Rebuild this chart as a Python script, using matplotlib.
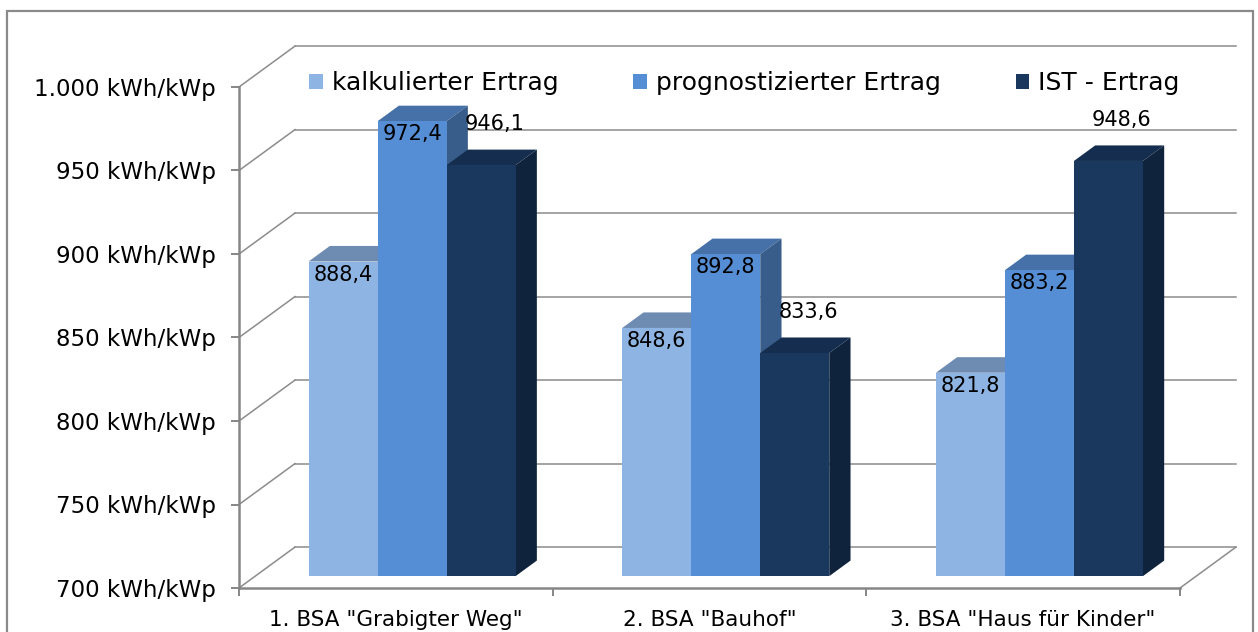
import matplotlib
matplotlib.use("Agg")
import matplotlib.pyplot as plt
from matplotlib.patches import Polygon, Patch, Rectangle

plt.rcParams['font.family'] = ['DejaVu Sans']

# ---------------- data ----------------
categories = ['1. BSA "Grabigter Weg"', '2. BSA "Bauhof"', '3. BSA "Haus für Kinder"']
series_names = ['kalkulierter Ertrag', 'prognostizierter Ertrag', 'IST - Ertrag']
kalkuliert = [888.4, 848.6, 821.8]
prognostiziert = [972.4, 892.8, 883.2]
ist = [946.1, 833.6, 948.6]
y_ticks = [700, 750, 800, 850, 900, 950, 1000]
y_tick_labels = ['700 kWh/kWp', '750 kWh/kWp', '800 kWh/kWp', '850 kWh/kWp',
                 '900 kWh/kWp', '950 kWh/kWp', '1.000 kWh/kWp']

series_values = [kalkuliert, prognostiziert, ist]

# ---------------- style ----------------
front_colors = ['#8EB4E3', '#558ED5', '#1A375E']
top_colors = ['#6E8BB2', '#4570A8', '#152E4F']
side_colors = ['#6A86AC', '#385D8A', '#10233C']
grid_color = '#8C8C8C'
axis_color = '#868686'

YMIN, YMAX = 700, 1000
NCAT = len(categories)
DX = 0.1785      # full depth offset (category units)
DY = 24.5        # full depth offset (value units)
F0, F1 = 0.29, 0.67   # bar depth range (fraction of full depth)
BAR_W = 0.22
CLUSTER_START = 0.17

fig = plt.figure(figsize=(12.58, 6.32), dpi=100)
ax = fig.add_axes([239 / 1258, 44 / 632, 941 / 1258, 501 / 632])
ax.set_xlim(0, NCAT)
ax.set_ylim(YMIN, YMAX)
ax.set_facecolor('none')

# back wall grid lines and left wall diagonals
for v in y_ticks:
    ax.plot([0, DX], [v, v + DY], color=grid_color, lw=1.1, clip_on=False, zorder=1)
    ax.plot([DX, NCAT + DX], [v + DY, v + DY], color=grid_color, lw=1.1,
            clip_on=False, zorder=1)
# right floor edge
ax.plot([NCAT, NCAT + DX], [YMIN, YMIN + DY], color=grid_color, lw=1.1,
        clip_on=False, zorder=1)

# bars
for i in range(NCAT):
    for j, vals in enumerate(series_values):
        v = vals[i]
        x0 = i + CLUSTER_START + j * BAR_W
        z = 2 + j * 0.1
        xf = x0 + F0 * DX
        xb = x0 + F1 * DX
        yf0 = YMIN + F0 * DY
        yb0 = YMIN + F1 * DY
        top = Polygon([(xf, v + F0 * DY), (xf + BAR_W, v + F0 * DY),
                       (xb + BAR_W, v + F1 * DY), (xb, v + F1 * DY)],
                      closed=True, facecolor=top_colors[j], edgecolor='none',
                      zorder=z, clip_on=False)
        side = Polygon([(xf + BAR_W, yf0), (xf + BAR_W, v + F0 * DY),
                        (xb + BAR_W, v + F1 * DY), (xb + BAR_W, yb0)],
                       closed=True, facecolor=side_colors[j], edgecolor='none',
                       zorder=z + 0.01, clip_on=False)
        ax.add_patch(top)
        ax.add_patch(side)
        ax.bar(xf, v - YMIN, bottom=yf0, width=BAR_W, align='edge',
               color=front_colors[j], edgecolor='none', zorder=z + 0.02,
               clip_on=False)
        label = f"{v:.1f}".replace('.', ',')
        if j < 2:
            off = (0, -9.5)
        else:
            off = (9.5, 29.5)
        ax.annotate(label, xy=(xf + BAR_W / 2, v + F0 * DY), xytext=off,
                    textcoords='offset points', ha='center', va='center',
                    fontsize=15, color='black', zorder=5,
                    annotation_clip=False)

# axes styling
for s in ['top', 'right']:
    ax.spines[s].set_visible(False)
for s in ['left', 'bottom']:
    ax.spines[s].set_color(axis_color)
    ax.spines[s].set_linewidth(1.8)
    ax.spines[s].set_zorder(6)

ax.set_yticks(y_ticks)
ax.set_yticklabels(y_tick_labels)
ax.tick_params(axis='y', direction='out', length=5.8, width=1.4,
               color=axis_color, labelsize=16.5, pad=11)
ax.set_xticks(range(NCAT + 1))
ax.set_xticklabels([])
ax.tick_params(axis='x', which='major', direction='out', length=6, width=1.4,
               color=axis_color)
ax.set_xticks([i + 0.5 for i in range(NCAT)], minor=True)
ax.set_xticklabels(categories, minor=True)
ax.tick_params(axis='x', which='minor', length=0, labelsize=15.5, pad=16)

# legend
handles = [Patch(facecolor=c, edgecolor='none') for c in front_colors]
ax.legend(handles, series_names, loc='center left',
          bbox_to_anchor=(0.0744, 1.008), ncol=3, frameon=False, fontsize=18,
          handlelength=0.55, handleheight=0.55, handletextpad=0.35,
          columnspacing=3.0, borderaxespad=0, borderpad=0)

# outer frame
frame = Rectangle((7 / 1258, -0.05), (1253 - 7) / 1258, 1 - 11 / 632 + 0.05,
                  transform=fig.transFigure, fill=False, edgecolor='#8A8A8A',
                  lw=1.6, clip_on=False)
fig.patches.append(frame)

fig.savefig('out.png', dpi=100)
